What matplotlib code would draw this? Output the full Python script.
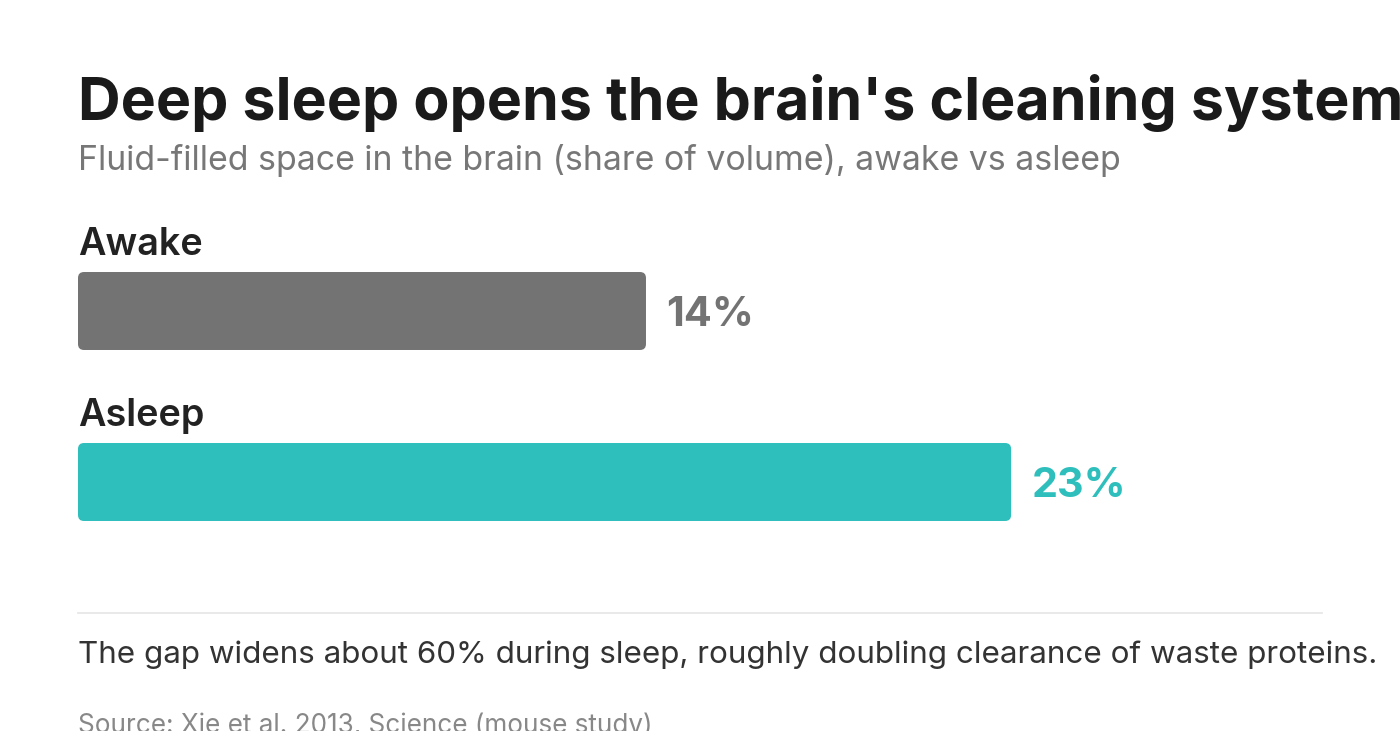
import matplotlib
matplotlib.use("Agg")
import matplotlib.pyplot as plt
from matplotlib.patches import FancyBboxPatch

plt.rcParams['font.family'] = ['Inter', 'DejaVu Sans']

#---Chart data:
categories = ["Awake", "Asleep"]
values = [14, 23]
value_labels = ["14%", "23%"]
bar_colors = ["#737373", "#2ebfbd"]

title = "Deep sleep opens the brain's cleaning system"
subtitle = "Fluid-filled space in the brain (share of volume), awake vs asleep"
note = "The gap widens about 60% during sleep, roughly doubling clearance of waste proteins."
source = "Source: Xie et al. 2013, Science (mouse study)"

W, H = 1400, 731
fig = plt.figure(figsize=(W / 100, H / 100), dpi=100)
fig.patch.set_facecolor("white")

#---Axes placed in pixel terms (left 78, right 1322, top 225.5, bottom 567.5):
left, right, top, bottom = 78, 1322, 225.5, 567.5
ax = fig.add_axes([left / W, 1 - bottom / H, (right - left) / W, (bottom - top) / H])
px_per_unit = 40.57
ax.set_xlim(0, (right - left) / px_per_unit)
ax.set_ylim(1.5, -0.5)
ax.axis("off")

bar_h = 0.456
r_x = 6 / px_per_unit
r_y = 6 / 171
for i, (cat, val, lab, col) in enumerate(zip(categories, values, value_labels, bar_colors)):
    box = FancyBboxPatch((0, i - bar_h / 2), val, bar_h,
                         boxstyle="round,pad=0,rounding_size=%f" % r_x,
                         mutation_aspect=r_y / r_x, fc=col, ec="none")
    ax.add_patch(box)
    #---Category label above the bar:
    ax.text(0.0, i - 0.33, cat, fontsize=27.2, fontweight="semibold",
            color="#222222", va="baseline", ha="left")
    #---Value label to the right:
    ax.text(val + 0.5, i, lab, fontsize=29.8, fontweight="bold",
            color=col, va="center_baseline", ha="left")

#---Titles and notes:
fig.text(78 / W, 1 - 120 / H, title, fontsize=42.5, fontweight="bold",
         color="#1a1a1a", va="baseline", ha="left")
fig.text(78 / W, 1 - 170 / H, subtitle, fontsize=24.4,
         color="#777777", va="baseline", ha="left")
fig.add_artist(plt.Line2D([78 / W, 1322 / W], [1 - 613 / H, 1 - 613 / H],
                          color="#e5e5e5", lw=1.2))
fig.text(78 / W, 1 - 663 / H, note, fontsize=22.6,
         color="#333333", va="baseline", ha="left")
fig.text(78 / W, 1 - 733 / H, source, fontsize=18.8,
         color="#888888", va="baseline", ha="left")

fig.savefig("out.png", dpi=100, facecolor="white")
